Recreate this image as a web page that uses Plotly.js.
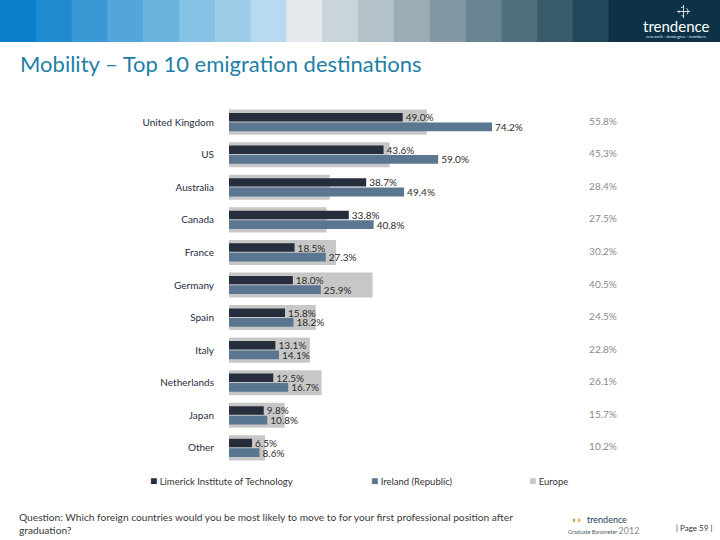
<!DOCTYPE html>
<html>
<head>
<meta charset="utf-8">
<script src="https://cdn.plot.ly/plotly-3.0.1.min.js"></script>
<style>html,body{margin:0;padding:0;background:#fff;}#chart{width:720px;height:540px;}</style>
</head>
<body>
<div id="chart"></div>
<script>
// ---- data ----
const categories = ["United Kingdom","US","Australia","Canada","France","Germany","Spain","Italy","Netherlands","Japan","Other"];
const limerick = [49.0, 43.6, 38.7, 33.8, 18.5, 18.0, 15.8, 13.1, 12.5, 9.8, 6.5];
const ireland  = [74.2, 59.0, 49.4, 40.8, 27.3, 25.9, 18.2, 14.1, 16.7, 10.8, 8.6];
const europe   = [55.8, 45.3, 28.4, 27.5, 30.2, 40.5, 24.5, 22.8, 26.1, 15.7, 10.2];
const seriesNames = ["Limerick Institute of Technology", "Ireland (Republic)", "Europe"];
const headerColors = ["#0a80cc","#1f8bd0","#3a99d5","#52a6da","#6ab3df","#84c1e5","#9ecdea","#b7daf0",
  "#e3e9ec","#cad5db","#b3c1c8","#9aadb5","#8299a3","#698591","#50707e","#385c6b","#20485a"];

const colLim = "#262e3d", colIre = "#5a7690", colEur = "#c7c7c7";

// ---- layout geometry helpers (pixels -> paper) ----
const W = 720, H = 540, ML = 229, MR = 80, MT = 104, MB = 74;
const PW = W - ML - MR, PH = H - MT - MB;
const px = v => (v - ML) / PW;
const py = v => (H - MB - v) / PH;
const pct = v => v.toFixed(1) + "%";

const labelFont = {family: "Lato, 'Open Sans', sans-serif", size: 10, color: "#2b2b2b"};

const traces = [
  {type: "bar", orientation: "h", name: seriesNames[2], y: categories, x: europe,
   marker: {color: colEur}, width: 0.77, offset: -0.385, hoverinfo: "x+name", showlegend: false},
  {type: "bar", orientation: "h", name: seriesNames[0], y: categories, x: limerick,
   marker: {color: colLim}, width: 0.26, offset: -0.28,
   text: limerick.map(pct), textposition: "outside", constraintext: "none", cliponaxis: false,
   textfont: labelFont, hoverinfo: "x+name", showlegend: false},
  {type: "bar", orientation: "h", name: seriesNames[1], y: categories, x: ireland,
   marker: {color: colIre}, width: 0.27, offset: 0.01,
   text: ireland.map(pct), textposition: "outside", constraintext: "none", cliponaxis: false,
   textfont: labelFont, hoverinfo: "x+name", showlegend: false},
  {type: "scatter", mode: "text", y: categories, x: europe.map(() => 105.5),
   text: europe.map(pct), textposition: "middle center", cliponaxis: false,
   textfont: {family: "Lato, 'Open Sans', sans-serif", size: 10, color: "#8a8a8a"},
   hoverinfo: "skip", showlegend: false}
];

const shapes = [];
const blockW = 35.8;
headerColors.forEach((c, i) => {
  shapes.push({type: "rect", xref: "paper", yref: "paper", layer: "below",
    x0: px(i * blockW), x1: px((i + 1) * blockW + 0.5), y0: py(42), y1: py(0),
    fillcolor: c, line: {width: 0}});
});
shapes.push({type: "rect", xref: "paper", yref: "paper", layer: "below",
  x0: px(headerColors.length * blockW), x1: px(720), y0: py(42), y1: py(0),
  fillcolor: "#0d3247", line: {width: 0}});
// logo crosshair
shapes.push({type: "circle", xref: "paper", yref: "paper", x0: px(679), x1: px(688), y0: py(16), y1: py(7),
  line: {color: "#ffffff", width: 0.8, dash: "dot"}});
shapes.push({type: "line", xref: "paper", yref: "paper", x0: px(683.5), x1: px(683.5), y0: py(18), y1: py(5),
  line: {color: "#ffffff", width: 0.8}});
shapes.push({type: "line", xref: "paper", yref: "paper", x0: px(677), x1: px(690), y0: py(11.5), y1: py(11.5),
  line: {color: "#ffffff", width: 0.8}});

const legFont = {family: "Lato, 'Open Sans', sans-serif", size: 9.5, color: "#333333"};
const sq = c => '<span style="color:' + c + ';font-size:12px">■</span> ';
const annotations = [
  {xref: "paper", yref: "paper", x: px(676), y: py(26), text: "trendence", showarrow: false,
   font: {family: "Lato, sans-serif", size: 15, color: "#ffffff"}, xanchor: "center", yanchor: "middle"},
  {xref: "paper", yref: "paper", x: px(676), y: py(37), text: "research · strategies · numbers", showarrow: false,
   font: {family: "Lato, sans-serif", size: 4.5, color: "#dfe8ee"}, xanchor: "center", yanchor: "middle"},
  // legend
  {xref: "paper", yref: "paper", x: px(148), y: py(480), xanchor: "left", yanchor: "middle", showarrow: false,
   text: sq(colLim) + seriesNames[0], font: legFont},
  {xref: "paper", yref: "paper", x: px(369), y: py(480), xanchor: "left", yanchor: "middle", showarrow: false,
   text: sq(colIre) + seriesNames[1], font: legFont},
  {xref: "paper", yref: "paper", x: px(527), y: py(480), xanchor: "left", yanchor: "middle", showarrow: false,
   text: sq(colEur) + seriesNames[2], font: legFont},
  // question
  {xref: "paper", yref: "paper", x: px(17), y: py(523), xanchor: "left", yanchor: "middle", align: "left", showarrow: false,
   text: "Question: Which foreign countries would you be most likely to move to for your first professional position after<br>graduation?",
   font: {family: "Lato, 'Open Sans', sans-serif", size: 10.2, color: "#3a3a3a"}},
  // footer logo
  {xref: "paper", yref: "paper", x: px(576), y: py(519), xanchor: "center", yanchor: "middle", showarrow: false,
   text: '<span style="color:#7ab648">◖</span><span style="color:#f29a2e">◗</span>', font: {size: 9}},
  {xref: "paper", yref: "paper", x: px(585), y: py(519), xanchor: "left", yanchor: "middle", showarrow: false,
   text: "trendence", font: {family: "Lato, sans-serif", size: 9, color: "#1b3a5c"}},
  {xref: "paper", yref: "paper", x: px(566), y: py(530), xanchor: "left", yanchor: "middle", showarrow: false,
   text: 'Graduate Barometer <span style="font-size:9px;color:#8a8a8a">2012</span>', font: {family: "Lato, sans-serif", size: 5.5, color: "#4a5a6a"}},
  {xref: "paper", yref: "paper", x: px(694), y: py(528), xanchor: "center", yanchor: "middle", showarrow: false,
   text: "| Page 59 |", font: {family: "Lato, sans-serif", size: 8, color: "#333333"}}
];

const layout = {
  width: W, height: H,
  margin: {l: ML, r: MR, t: MT, b: MB, pad: 0},
  paper_bgcolor: "#ffffff", plot_bgcolor: "#ffffff",
  barmode: "overlay",
  showlegend: false,
  title: {text: "Mobility – Top 10 emigration destinations", xref: "container", yref: "container",
    x: 20 / W, xanchor: "left", y: 1 - 64 / H, yanchor: "middle",
    font: {family: "Lato, 'Open Sans', sans-serif", size: 22, color: "#1e7fa6"}},
  xaxis: {range: [0, PW / 3.545], visible: false, showgrid: false, zeroline: false, fixedrange: true},
  yaxis: {type: "category", autorange: "reversed", showgrid: false, zeroline: false, showline: false,
    ticks: "", ticklabelstandoff: 14,
    tickfont: {family: "Lato, 'Open Sans', sans-serif", size: 10, color: "#1f2d3d"}},
  shapes: shapes,
  annotations: annotations
};

Plotly.newPlot("chart", traces, layout, {displayModeBar: false, staticPlot: true});
</script>
</body>
</html>
